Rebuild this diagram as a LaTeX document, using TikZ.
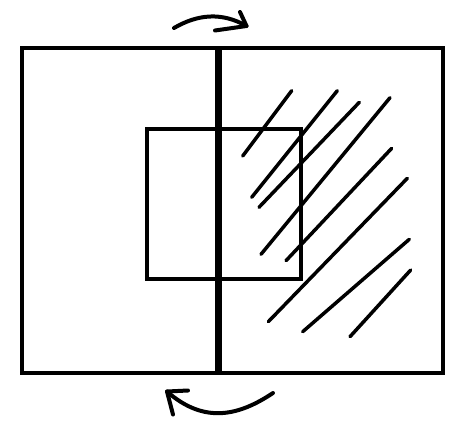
\documentclass[tikz,border=0pt]{standalone}
\usepackage{tikz}
\usetikzlibrary{positioning}

\begin{document}
\begin{tikzpicture}[x=1pt, y=-1pt,
		frame/.style={line width=4pt, line join=miter},
		hatch/.style={line width=3.5pt, line cap=round},
		turn/.style={line width=4pt, line cap=round, line join=round}]
					\useasboundingbox (0,0) rectangle (474,424);
					
					\draw[frame] (22,48) rectangle (218,373);
					\draw[frame] (220,48) rectangle (443,373);
					\draw[line width=6pt] (218,46) -- (218,375);
					\draw[frame] (147,129) rectangle (301,279);
					
					\draw[hatch] (291.7,90.7) -- (242.7,156);
					\draw[hatch] (337.3,90.7) -- (251.7,197.3);
					\draw[hatch] (359.3,102.3) -- (259,207.3);
					\draw[hatch] (390,97.7) -- (261,254.3);
					\draw[hatch] (391.7,148.3) -- (286,260.7);
					\draw[hatch] (407.3,178.3) -- (268.3,321.7);
					\draw[hatch] (409.3,239.3) -- (302.7,331.7);
					\draw[hatch] (410.7,270) -- (350,336.7);
					
					\coordinate (top start) at (174,28);
					\coordinate (top end) at (246.5,26);
					\draw[turn] (top start) .. controls (198,14) and (222,12) .. (top end);
					\draw[turn] (215,30.5) -- (top end) -- (240,12);
					
					\coordinate (bottom start) at (273,393);
					\coordinate (bottom end) at (167,391.5);
					\draw[turn] (bottom start) .. controls (240,415) and (205,425) .. (bottom end);
					\draw[turn] (188,390.5) -- (bottom end) -- (173,414.5);
				\end{tikzpicture}
\end{document}
